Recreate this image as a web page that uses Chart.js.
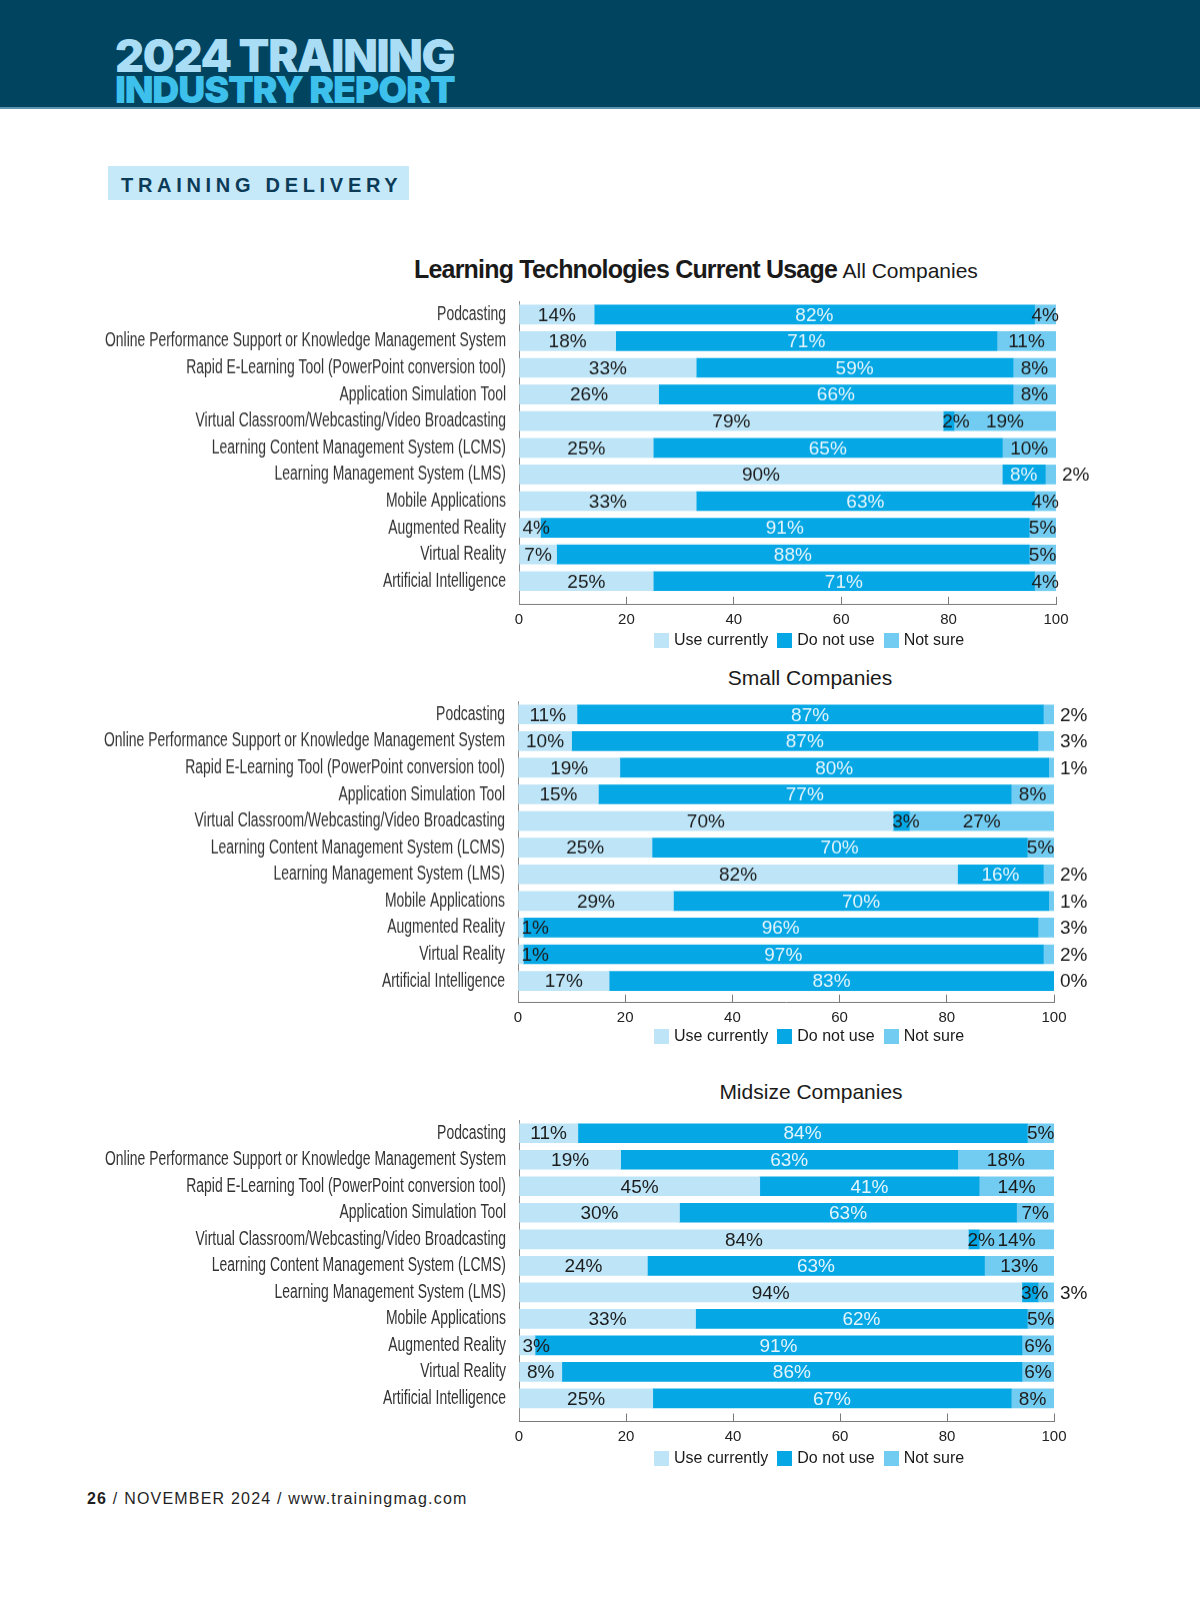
<!DOCTYPE html>
<html><head><meta charset="utf-8">
<script src="https://cdn.jsdelivr.net/npm/chart.js@4"></script>
<style>
html,body{margin:0;padding:0;background:#fff;}
body{width:1200px;height:1613px;overflow:hidden;position:relative;font-family:'Liberation Sans',Arial,sans-serif;color:#1a1a1a;}
#band{position:absolute;left:0;top:0;width:1200px;height:107px;background:#00445f;border-bottom:2px solid #5e94ae;}
.hd{position:absolute;left:115px;font-family:Inter,'Liberation Sans',sans-serif;font-weight:900;white-space:nowrap;line-height:1;}
#hd1{top:33px;font-size:45px;color:#a9ddf5;letter-spacing:-1.3px;}
#hd2{top:71px;font-size:37.5px;color:#3ec0ec;letter-spacing:-1.2px;}
#sec{position:absolute;left:108px;top:166px;width:301px;height:34px;background:#c6e9f9;}
#sec span{position:absolute;left:13px;top:9px;font-weight:bold;font-size:20px;letter-spacing:4.7px;color:#0c3b57;line-height:20px;}
.title{position:absolute;white-space:nowrap;line-height:1;}
#t1{left:414px;top:257px;}
#t1 b{font-size:25px;letter-spacing:-0.8px;font-weight:bold;}
#t1 span{font-size:21px;margin-left:1px;}
#t2{left:0;width:1620px;text-align:center;top:667px;font-size:21px;}
#t3{left:0;width:1622px;text-align:center;top:1081px;font-size:21px;}
.legend{position:absolute;left:654px;display:flex;align-items:center;font-size:16px;white-space:nowrap;color:#1a1a1a;}
.legend i{display:inline-block;width:15px;height:15px;margin-right:5px;}
.legend em{font-style:normal;margin-right:9px;}
canvas{position:absolute;left:0;}
#foot{position:absolute;left:87px;top:1490px;font-size:16px;letter-spacing:1.2px;color:#1f1f1f;white-space:nowrap;}
</style></head>
<body>
<div id="band"></div>
<div class="hd" id="hd1">2024 TRAINING</div>
<div class="hd" id="hd2">INDUSTRY REPORT</div>
<div id="sec"><span>TRAINING DELIVERY</span></div>
<div class="title" id="t1"><b>Learning Technologies Current Usage</b> <span>All Companies</span></div>
<div class="title" id="t2">Small Companies</div>
<div class="title" id="t3">Midsize Companies</div>
<div id="wrap1"><canvas id="c1"></canvas></div>
<div id="wrap2"><canvas id="c2"></canvas></div>
<div id="wrap3"><canvas id="c3"></canvas></div>
<div class="legend" id="lg1"></div>
<div class="legend" id="lg2"></div>
<div class="legend" id="lg3"></div>
<div id="foot"><b>26</b> / NOVEMBER 2024 / www.trainingmag.com</div>
<script>
const categories = [
  'Podcasting',
  'Online Performance Support or Knowledge Management System',
  'Rapid E-Learning Tool (PowerPoint conversion tool)',
  'Application Simulation Tool',
  'Virtual Classroom/Webcasting/Video Broadcasting',
  'Learning Content Management System (LCMS)',
  'Learning Management System (LMS)',
  'Mobile Applications',
  'Augmented Reality',
  'Virtual Reality',
  'Artificial Intelligence'
];
const seriesNames = ['Use currently', 'Do not use', 'Not sure'];
const xTicks = [0, 20, 40, 60, 80, 100];

const allUse    = [14, 18, 33, 26, 79, 25, 90, 33, 4, 7, 25];
const allNotUse = [82, 71, 59, 66, 2, 65, 8, 63, 91, 88, 71];
const allUnsure = [4, 11, 8, 8, 19, 10, 2, 4, 5, 5, 4];

const smallUse    = [11, 10, 19, 15, 70, 25, 82, 29, 1, 1, 17];
const smallNotUse = [87, 87, 80, 77, 3, 70, 16, 70, 96, 97, 83];
const smallUnsure = [2, 3, 1, 8, 27, 5, 2, 1, 3, 2, 0];

const midUse    = [11, 19, 45, 30, 84, 24, 94, 33, 3, 8, 25];
const midNotUse = [84, 63, 41, 63, 2, 63, 3, 62, 91, 86, 67];
const midUnsure = [5, 18, 14, 7, 14, 13, 3, 5, 6, 6, 8];

const colors = ['#bde5f7', '#05a7e5', '#72ccf1'];
const labelFont = '"Liberation Sans", Arial, sans-serif';
const catFont = '"Liberation Sans", Arial, sans-serif';
const catSize = 20;

// horizontal condensing factor for the category labels (reference uses a condensed face)
const mctx = document.createElement('canvas').getContext('2d');
mctx.font = catSize + 'px ' + catFont;
const condense = 401 / mctx.measureText(categories[1]).width;

const LS = Chart.registry.getScale('linear');
class CondensedLinear extends LS {
  drawLabels(chartArea) {
    const ctx = this.ctx;
    const ax = this.right - this.options.ticks.padding;
    const keepLeft = this.left;
    this.left = -3000; // widen the label clip box so scaled labels are not cut
    ctx.save();
    ctx.translate(ax, 0);
    ctx.scale(condense, 1);
    ctx.translate(-ax, 0);
    super.drawLabels(chartArea);
    ctx.restore();
    this.left = keepLeft;
  }
}
CondensedLinear.id = 'condensedLinear';
CondensedLinear.defaults = LS.defaults;
Chart.register(CondensedLinear);

const barLabels = {
  id: 'barLabels',
  afterDatasetsDraw(chart) {
    const ctx = chart.ctx;
    ctx.save();
    ctx.font = '19px ' + labelFont;
    ctx.textBaseline = 'middle';
    chart.data.datasets.forEach((ds, di) => {
      const meta = chart.getDatasetMeta(di);
      meta.data.forEach((el, i) => {
        const v = ds.data[i].x;
        const x0 = Math.min(el.base, el.x), x1 = Math.max(el.base, el.x);
        let x = (x0 + x1) / 2, align = 'center';
        let col = di === 1 ? '#e4f5fd' : '#1c1c1c';
        if (di === 2 && v <= 3) { x = chart.chartArea.right + 6; align = 'left'; }
        else if (di === 0 && v < 5) { x = x0 + 3; align = 'left'; }
        else if (di === 1 && v < 5) { x = x0 - 1; align = 'left'; col = '#1c1c1c'; }
        ctx.fillStyle = col;
        ctx.textAlign = align;
        ctx.fillText(v + '%', x, el.y + 1);
      });
    });
    ctx.restore();
  }
};

function legendHtml(id, y) {
  const el = document.getElementById(id);
  el.innerHTML = seriesNames.map((n, i) => '<i style="background:' + colors[i] + '"></i><em>' + n + '</em>').join('');
  el.style.top = (y - 7) + 'px';
}

function makeChart(id, series, geo) {
  const step = (geo.last - geo.first) / (categories.length - 1);
  const T = geo.first - step / 2;
  const yMax = categories.length - 1 + (geo.axis - geo.last) / step;
  const padTop = 20, xH = 30;
  const cv = document.getElementById(id);
  const wrap = cv.parentNode;
  wrap.style.cssText = 'position:absolute;left:0;top:' + (T - padTop) + 'px;width:1200px;height:' + (padTop + (geo.axis - T) + xH) + 'px;';
  cv.style.top = '0px';
  const datasets = series.map((arr, si) => ({
    label: seriesNames[si],
    data: arr.map((v, i) => ({ x: v, y: i })),
    backgroundColor: colors[si],
    borderWidth: 0,
    barThickness: 19,
    stack: 's'
  }));
  return new Chart(cv, {
    type: 'bar',
    data: { datasets },
    plugins: [barLabels],
    options: {
      indexAxis: 'y',
      responsive: true,
      maintainAspectRatio: false,
      animation: false,
      layout: { padding: { top: padTop, left: 0, right: 1200 - geo.right, bottom: 0 } },
      plugins: { legend: { display: false }, tooltip: { enabled: false }, title: { display: false } },
      scales: {
        y: {
          type: 'condensedLinear', reverse: true, min: -0.5, max: yMax, bounds: 'data', stacked: true, offset: false,
          afterBuildTicks: s => { s.ticks = categories.map((c, i) => ({ value: i })); },
          afterFit: s => { s.width = geo.left; },
          grid: { display: false, drawTicks: false, offset: false },
          border: { display: true, color: '#8c8c8c', width: 1 },
          ticks: { autoSkip: false, padding: 13, color: '#333', font: { family: catFont, size: catSize },
                   callback: v => categories[v] }
        },
        x: {
          type: 'linear', min: 0, max: 100, stacked: true, bounds: 'data', offset: false,
          afterBuildTicks: s => { s.ticks = xTicks.map(v => ({ value: v })); },
          afterFit: s => { s.height = xH; },
          grid: { display: true, drawOnChartArea: false, drawTicks: true, tickLength: -8, color: '#7a7a7a', lineWidth: 1 },
          border: { display: true, color: '#7a7a7a', width: 1 },
          ticks: { padding: 14, color: '#222', font: { family: labelFont, size: 15 }, maxRotation: 0 }
        }
      }
    }
  });
}

makeChart('c1', [allUse, allNotUse, allUnsure], { first: 309.6, last: 580, axis: 604, left: 519, right: 1056 });
makeChart('c2', [smallUse, smallNotUse, smallUnsure], { first: 709.8, last: 980, axis: 1002, left: 518, right: 1054 });
makeChart('c3', [midUse, midNotUse, midUnsure], { first: 1128, last: 1397.5, axis: 1421, left: 519, right: 1054 });
legendHtml('lg1', 638);
legendHtml('lg2', 1034);
legendHtml('lg3', 1456);
</script>
</body></html>
